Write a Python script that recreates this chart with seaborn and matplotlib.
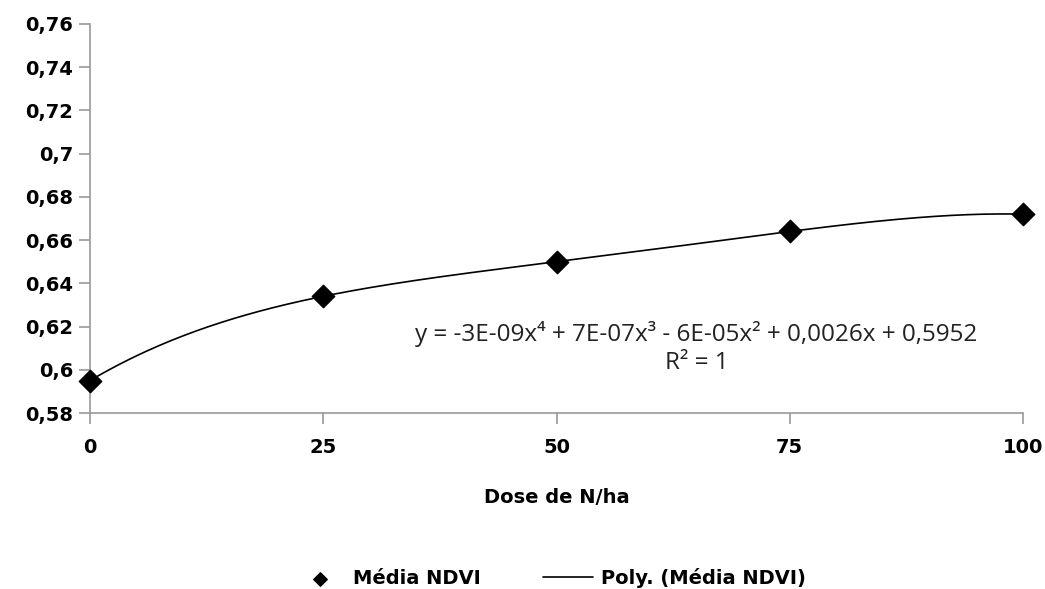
import numpy as np
import pandas as pd
import matplotlib
matplotlib.use("Agg")
import matplotlib.pyplot as plt
import seaborn as sns

dose = [0, 25, 50, 75, 100]
ndvi = [0.595, 0.634, 0.650, 0.664, 0.672]
y_ticks = [0.58, 0.60, 0.62, 0.64, 0.66, 0.68, 0.70, 0.72, 0.74, 0.76]
y_tick_labels = ["0,58", "0,6", "0,62", "0,64", "0,66", "0,68", "0,7", "0,72", "0,74", "0,76"]
x_ticks = [0, 25, 50, 75, 100]
equation = "y = -3E-09x\u2074 + 7E-07x\u00b3 - 6E-05x\u00b2 + 0,0026x + 0,5952"
r2_text = "R\u00b2 = 1"

sns.set_theme(style="white")
plt.rcParams['font.family'] = ['DejaVu Sans']

df = pd.DataFrame({"dose": dose, "ndvi": ndvi})
coef = np.polyfit(dose, ndvi, 4)
xs = np.linspace(0, 100, 300)
trend = pd.DataFrame({"dose": xs, "ndvi": np.polyval(coef, xs)})

fig = plt.figure(figsize=(10.45, 5.89), dpi=100)
ax = fig.add_axes([90/1045, 1-413/589, (1023-90)/1045, (413-24)/589])

sns.lineplot(data=trend, x="dose", y="ndvi", ax=ax, color="black", lw=1.2, label="Poly. (Média NDVI)")
sns.scatterplot(data=df, x="dose", y="ndvi", ax=ax, marker="D", s=130, color="black",
                edgecolor="black", linewidth=1, zorder=5, label="Média NDVI", clip_on=False)

ax.set_xlim(0, 100)
ax.set_ylim(0.58, 0.76)
ax.set_yticks(y_ticks)
ax.set_yticklabels(y_tick_labels)
ax.set_xticks(x_ticks)
ax.set_xticklabels([str(v) for v in x_ticks])
for s in ["top", "right"]:
    ax.spines[s].set_visible(False)
for s in ["left", "bottom"]:
    ax.spines[s].set_color("#999999")
    ax.spines[s].set_linewidth(1.2)
ax.tick_params(axis="both", which="major", direction="out", length=8, width=1.2,
               color="#999999", labelsize=14, labelcolor="black", bottom=True, left=True)
ax.tick_params(axis="y", pad=4)
ax.tick_params(axis="x", pad=10)
for lab in ax.get_xticklabels() + ax.get_yticklabels():
    lab.set_fontweight("bold")
ax.set_xlabel("Dose de N/ha", fontsize=14, fontweight="bold", labelpad=22, color="black")
ax.set_ylabel("")

ax.text(65.0, 0.6165, equation, ha="center", va="center", fontsize=17.5,
        color="#222222", family=["Open Sans", "DejaVu Sans"])
ax.text(65.0, 0.6030, r2_text, ha="center", va="center", fontsize=17.5,
        color="#222222", family=["Open Sans", "DejaVu Sans"])

handles, labels = ax.get_legend_handles_labels()
order = [labels.index("Média NDVI"), labels.index("Poly. (Média NDVI)")]
leg = ax.legend([handles[i] for i in order], [labels[i] for i in order],
                loc="center", bbox_to_anchor=(550/1045, 1-578/589), bbox_transform=fig.transFigure,
                ncol=2, frameon=False, fontsize=14, columnspacing=3.2, handlelength=2.6,
                handletextpad=0.4, markerscale=0.6)
for t in leg.get_texts():
    t.set_fontweight("bold")
    t.set_color("black")

fig.savefig("out.png", dpi=100)
